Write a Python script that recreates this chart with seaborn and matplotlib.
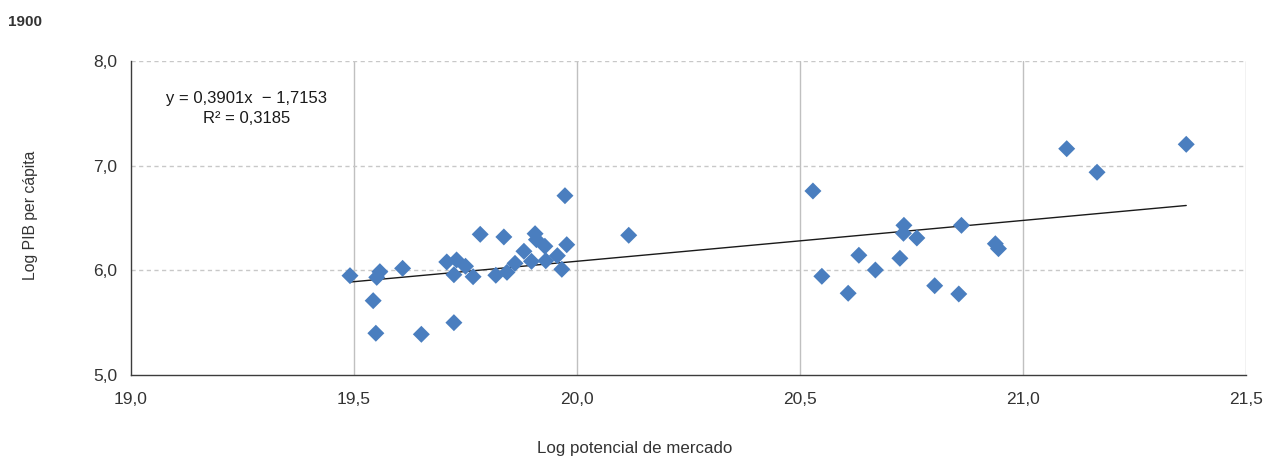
import numpy as np
import pandas as pd
import matplotlib
matplotlib.use("Agg")
import matplotlib.pyplot as plt
import seaborn as sns

# ---- data ----
log_market_potential = [
    19.491, 19.543, 19.549, 19.551, 19.558, 19.609, 19.651, 19.708, 19.730, 19.724,
    19.724, 19.750, 19.767, 19.783, 19.818, 19.836, 19.843, 19.861, 19.881, 19.898,
    19.906, 19.909, 19.928, 19.930, 19.956, 19.966, 19.973, 19.977, 20.116,
    20.529, 20.549, 20.608, 20.632, 20.669, 20.724, 20.733, 20.732, 20.762, 20.802,
    20.856, 20.862, 20.938, 20.945, 21.098, 21.166, 21.366,
]
log_gdp_per_capita = [
    5.949, 5.710, 5.399, 5.933, 5.987, 6.019, 5.389, 6.080, 6.099, 5.958,
    5.500, 6.039, 5.939, 6.344, 5.953, 6.319, 5.981, 6.067, 6.182, 6.086,
    6.350, 6.293, 6.230, 6.092, 6.140, 6.010, 6.713, 6.245, 6.335,
    6.758, 5.943, 5.781, 6.144, 6.003, 6.115, 6.430, 6.354, 6.309, 5.853,
    5.774, 6.430, 6.254, 6.207, 7.162, 6.937, 7.204,
]
trend_slope = 0.3901
trend_intercept = -1.7153
r_squared = 0.3185
x_ticks = [19.0, 19.5, 20.0, 20.5, 21.0, 21.5]
y_ticks = [5.0, 6.0, 7.0, 8.0]
title_text = "1900"
x_label = "Log potencial de mercado"
y_label = "Log PIB per cápita"

df = pd.DataFrame({"x": log_market_potential, "y": log_gdp_per_capita})

sns.set_theme(style="white")
plt.rcParams["font.family"] = ["Liberation Sans", "DejaVu Sans"]

fig = plt.figure(figsize=(12.63, 4.58), dpi=100)
ax = fig.add_axes([131 / 1263, 1 - 375 / 458, (1246 - 131) / 1263, (375 - 61) / 458])

ax.set_xlim(19.0, 21.5)
ax.set_ylim(5.0, 8.0)
ax.set_xticks(x_ticks)
ax.set_yticks(y_ticks)
ax.set_xticklabels([f"{t:.1f}".replace(".", ",") for t in x_ticks])
ax.set_yticklabels([f"{t:.1f}".replace(".", ",") for t in y_ticks])

# grid: vertical solid light grey, horizontal dashed light grey
for xv in x_ticks[1:]:
    ax.axvline(xv, color="#c0c0c0", lw=1.0, zorder=0)
for yv in y_ticks[1:]:
    ax.axhline(yv, color="#c8c8c8", lw=1.0, ls=(0, (3, 2.5)), zorder=0)

# trend line
xs = np.array([min(log_market_potential), max(log_market_potential)])
ax.plot(xs, trend_slope * xs + trend_intercept, color="#1a1a1a", lw=1.0, zorder=2)

sns.scatterplot(data=df, x="x", y="y", marker="D", s=75, color="#4a7ebf",
                edgecolor="none", linewidth=0, ax=ax, zorder=3)

for side in ["top", "right"]:
    ax.spines[side].set_visible(False)
for side in ["left", "bottom"]:
    ax.spines[side].set_color("#3c3c3c")
    ax.spines[side].set_linewidth(1.0)

ax.tick_params(axis="x", direction="inout", length=7, width=1, color="#3c3c3c",
               labelsize=12.5, labelcolor="#333333", pad=9)
ax.tick_params(axis="y", direction="in", length=5, width=1, color="#3c3c3c",
               labelsize=12.5, labelcolor="#333333", pad=10)

ax.set_xlabel("")
ax.set_ylabel("")
fig.text(635 / 1263, 1 - 449 / 458, x_label, ha="center", va="center",
         fontsize=12.2, color="#333333")
fig.text(30 / 1263, 1 - 215 / 458, y_label, ha="center", va="center",
         rotation=90, fontsize=11.3, color="#333333")
fig.text(8 / 1263, 1 - 22 / 458, title_text, ha="left", va="center",
         fontsize=11, fontweight="bold", color="#333333")

eq = f"y = {trend_slope:.4f}x  − {abs(trend_intercept):.4f}".replace(".", ",")
r2 = f"R² = {r_squared:.4f}".replace(".", ",")
ax.text(19.26, 7.64, eq, ha="center", va="center", fontsize=12, color="#1a1a1a")
ax.text(19.26, 7.45, r2, ha="center", va="center", fontsize=12, color="#1a1a1a")

fig.savefig("out.png", dpi=100)
